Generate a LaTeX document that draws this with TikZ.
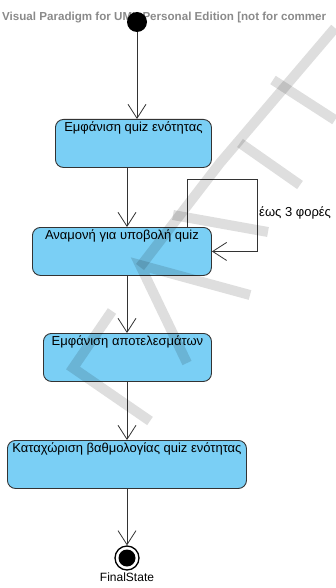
\documentclass[tikz,border=0pt]{standalone}
\usepackage{fontspec}
\setmainfont{Liberation Sans}
\usepackage{xcolor}
\definecolor{stateBlue}{HTML}{7ACFF5}
\definecolor{lineGray}{HTML}{333333}
\definecolor{markGray}{HTML}{8A8A8A}
\usetikzlibrary{arrows.meta, positioning}
\tikzset{
    % Action states - rounded boxes, text at the top
    action/.style={
        draw=lineGray,
        line width=0.9pt,
        fill=stateBlue,
        rounded corners=8pt,
        font=\fontsize{13}{15}\selectfont,
        inner xsep=4pt,
        inner ysep=2.5pt,
        text height=9.5pt,
        text depth=33.5pt,
        anchor=north west,
    },
    % Initial state - filled dot
    initial/.style={
        circle,
        fill=black,
        minimum size=20pt,
        inner sep=0pt,
    },
    % Final state - ring with dot
    final/.style={
        circle,
        draw=black,
        line width=1.3pt,
        minimum size=24pt,
        inner sep=0pt,
        path picture={\fill[black] (path picture bounding box.center) circle (8.5pt);},
    },
    % Transitions - open arrow heads
    flow/.style={
        -{Straight Barb[length=14pt, width=18pt]},
        line width=0.8pt,
        draw=lineGray,
    },
    % Faint diagonal watermark strokes
    watermark/.style={
        line width=10pt,
        draw=black,
        draw opacity=0.13,
    },
}

\begin{document}
\begin{tikzpicture}[x=1pt, y=-1pt]
    \useasboundingbox (0,0) rectangle (335,588);
    \node (header) [anchor=west, inner sep=0pt, text=markGray, font=\bfseries\fontsize{11.6}{13}\selectfont] at (2,18) {Visual Paradigm for UML Personal Edition [not for commer};

    \node (start) [initial] at (137,22) {};
    \node (show_quiz) [action, minimum width=156pt] at (55,119) {Εμφάνιση quiz ενότητας};
    \node (wait_submit) [action, minimum width=179pt] at (32,227) {Αναμονή για υποβολή quiz};
    \node (show_results) [action, minimum width=168pt] at (43,333) {Εμφάνιση αποτελεσμάτων};
    \node (save_grade) [action, minimum width=239pt] at (7,440) {Καταχώριση βαθμολογίας quiz ενότητας};
    \node (final) [final] at (127,558) {};
    \node (final_label) [below=2pt of final, inner sep=0pt, font=\fontsize{12}{14}\selectfont] {FinalState};
    \node (loop_label) [anchor=west, inner sep=0pt, font=\fontsize{13}{15}\selectfont] at (259,213) {έως 3 φορές};

    \draw [flow] (start) -- (start |- show_quiz.north);
    \draw [flow] (show_quiz.south -| 127,0) -- (wait_submit.north -| 127,0);
    \draw [flow] ([xshift=65pt]wait_submit.north) |- (257,179) |- (wait_submit.east);
    \draw [flow] (wait_submit.south -| 127,0) -- (show_results.north -| 127,0);
    \draw [flow] (show_results.south -| 127,0) -- (save_grade.north -| 127,0);
    \draw [flow] (save_grade.south -| 127,0) -- (final.north);

    % watermark
    \draw [watermark] (150,421) -- (73,368) -- (112,311);
    \draw [watermark] (187,363) -- (140,265) -- (250,295);
    \draw [watermark] (140,267) -- (220,163) -- (335,28);
    \draw [watermark] (173,215) -- (268,232);
    \draw [watermark] (240,143) -- (300,185);
    \draw [watermark] (273,80) -- (335,120);
\end{tikzpicture}
\end{document}
